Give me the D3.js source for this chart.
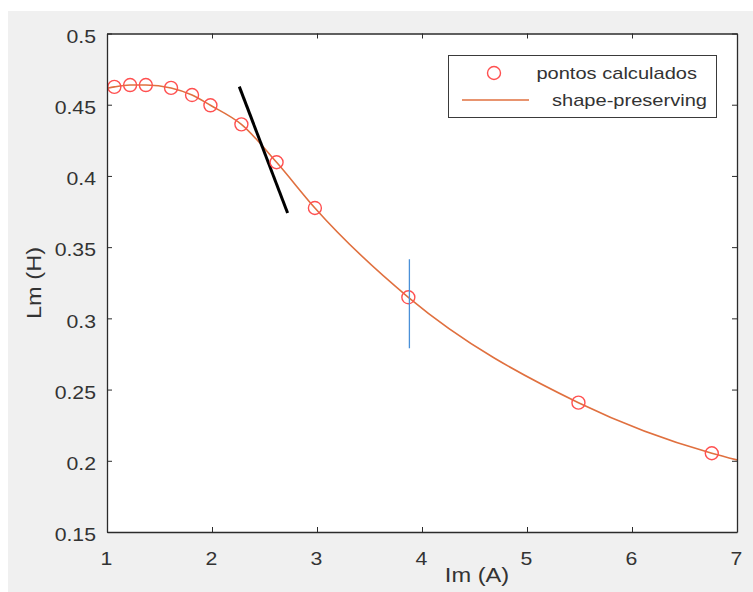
<!DOCTYPE html>
<html>
<head>
<meta charset="utf-8">
<script src="https://cdn.jsdelivr.net/npm/d3@7"></script>
<style>
  html, body { margin: 0; padding: 0; background: #ffffff; }
  svg { display: block; }
  text { font-family: "Liberation Sans", Arial, sans-serif; fill: #333333; }
</style>
</head>
<body>
<svg id="chart" width="753" height="592"></svg>
<script>
// Computed magnetizing inductance Lm versus magnetizing current Im
const imValues = [1.07, 1.22, 1.37, 1.61, 1.81, 1.985, 2.28, 2.615, 2.98, 3.87, 5.49, 6.76];
const lmValues = [0.4625, 0.4638, 0.4638, 0.4618, 0.4568, 0.4496, 0.4362, 0.4096, 0.3775, 0.3148, 0.2408, 0.2053];

// End values of the shape-preserving fit at the axis limits
const fitStart = { im: 1.0, lm: 0.4615 };
const fitEnd = { im: 7.0, lm: 0.2006 };

// Tangent segment and vertical marker
const tangentIm = [2.26, 2.72];
const tangentLm = [0.4627, 0.3740];
const markerIm = [3.88, 3.88];
const markerLm = [0.3415, 0.2790];

const xTicks = [1, 2, 3, 4, 5, 6, 7];
const yTicks = [0.15, 0.2, 0.25, 0.3, 0.35, 0.4, 0.45, 0.5];
const legendLabels = ["pontos calculados", "shape-preserving"];

const svg = d3.select("#chart");
const W = 753, H = 592;
const plotL = 107, plotR = 737, plotT = 33.5, plotB = 532;
const axisColor = "#2b2b2b";
const stretch = 1.18;

// widen text horizontally to the figure's rendering width
function widen(sel, k) {
  sel.each(function () {
    const n = this.getComputedTextLength();
    d3.select(this).attr("textLength", n * k).attr("lengthAdjust", "spacingAndGlyphs");
  });
}

// figure background
svg.append("rect").attr("x", 8).attr("y", 11).attr("width", W - 8).attr("height", H - 11).attr("fill", "#f0f0f0");

const x = d3.scaleLinear().domain([1, 7]).range([plotL, plotR]);
const y = d3.scaleLinear().domain([0.15, 0.5]).range([plotB, plotT]);

// axes area
svg.append("rect").attr("x", plotL).attr("y", plotT).attr("width", plotR - plotL).attr("height", plotB - plotT).attr("fill", "#ffffff");

const plot = svg.append("g");
plot.append("defs").append("clipPath").attr("id", "clip")
  .append("rect").attr("x", plotL).attr("y", plotT).attr("width", plotR - plotL).attr("height", plotB - plotT);

const clipped = plot.append("g").attr("clip-path", "url(#clip)");

// shape-preserving fit
const fitData = [[fitStart.im, fitStart.lm]].concat(imValues.map((v, i) => [v, lmValues[i]])).concat([[fitEnd.im, fitEnd.lm]]);
clipped.append("path")
  .datum(fitData)
  .attr("fill", "none")
  .attr("stroke", "#e0703f")
  .attr("stroke-width", 1.6)
  .attr("d", d3.line().x(d => x(d[0])).y(d => y(d[1])).curve(d3.curveMonotoneX));

// tangent line
clipped.append("path")
  .datum(tangentIm.map((v, i) => [v, tangentLm[i]]))
  .attr("fill", "none")
  .attr("stroke", "#000000")
  .attr("stroke-width", 3)
  .attr("d", d3.line().x(d => x(d[0])).y(d => y(d[1])));

// computed points
clipped.selectAll("circle.pt")
  .data(imValues.map((v, i) => [v, lmValues[i]]))
  .join("circle")
  .attr("class", "pt")
  .attr("cx", d => x(d[0]))
  .attr("cy", d => y(d[1]))
  .attr("r", 6.5)
  .attr("fill", "none")
  .attr("stroke", "#ff5050")
  .attr("stroke-width", 1.4);

// vertical marker
clipped.append("path")
  .datum(markerIm.map((v, i) => [v, markerLm[i]]))
  .attr("fill", "none")
  .attr("stroke", "#4a90d8")
  .attr("stroke-width", 1.3)
  .attr("d", d3.line().x(d => x(d[0])).y(d => y(d[1])));

// axes with inward ticks on all four sides
const tickLen = 5;
const axB = svg.append("g").attr("transform", `translate(0,${plotB})`)
  .call(d3.axisBottom(x).tickValues(xTicks).tickSizeInner(-tickLen).tickSizeOuter(0).tickFormat(d3.format("d")));
const axT = svg.append("g").attr("transform", `translate(0,${plotT})`)
  .call(d3.axisTop(x).tickValues(xTicks).tickSizeInner(-tickLen).tickSizeOuter(0).tickFormat(""));
const axL = svg.append("g").attr("transform", `translate(${plotL},0)`)
  .call(d3.axisLeft(y).tickValues(yTicks).tickSizeInner(-tickLen).tickSizeOuter(0).tickFormat(d => String(+d.toFixed(2))));
const axR = svg.append("g").attr("transform", `translate(${plotR},0)`)
  .call(d3.axisRight(y).tickValues(yTicks).tickSizeInner(-tickLen).tickSizeOuter(0).tickFormat(""));

[axB, axT, axL, axR].forEach(a => {
  a.attr("font-family", null).attr("font-size", null);
  a.select(".domain").attr("stroke", axisColor).attr("stroke-width", 1.3);
  a.selectAll(".tick line").attr("stroke", axisColor).attr("stroke-width", 1);
});

axB.selectAll(".tick text")
  .attr("y", 0).attr("dy", 0).attr("transform", "translate(-1,33)")
  .style("font-size", "18px").attr("fill", "#404040")
  .call(widen, stretch);
axL.selectAll(".tick text")
  .attr("x", -11).attr("dy", "0.32em").attr("transform", "translate(0,3)")
  .style("font-size", "18px").attr("fill", "#404040")
  .call(widen, stretch);

// axis titles
svg.append("text")
  .attr("x", 477).attr("y", 582)
  .attr("text-anchor", "middle")
  .style("font-size", "20px").attr("fill", "#2e2e2e")
  .text("Im (A)")
  .call(widen, stretch);

svg.append("text")
  .attr("transform", "translate(41,283) rotate(-90)")
  .attr("text-anchor", "middle")
  .style("font-size", "20px").attr("fill", "#2e2e2e")
  .text("Lm (H)")
  .call(widen, stretch);

// legend
const lg = svg.append("g");
lg.append("rect")
  .attr("x", 448.5).attr("y", 55.5).attr("width", 268).attr("height", 62)
  .attr("fill", "#ffffff").attr("stroke", "#3a3a3a").attr("stroke-width", 1);
lg.append("circle")
  .attr("cx", 494).attr("cy", 73).attr("r", 6.5)
  .attr("fill", "none").attr("stroke", "#ff5050").attr("stroke-width", 1.4);
lg.append("line")
  .attr("x1", 462).attr("x2", 529).attr("y1", 100).attr("y2", 100)
  .attr("stroke", "#e0703f").attr("stroke-width", 1.6);
lg.append("text")
  .attr("x", 697).attr("y", 79).attr("text-anchor", "end")
  .style("font-size", "17px").attr("fill", "#2e2e2e")
  .text(legendLabels[0]).call(widen, stretch);
lg.append("text")
  .attr("x", 707).attr("y", 106).attr("text-anchor", "end")
  .style("font-size", "17px").attr("fill", "#2e2e2e")
  .text(legendLabels[1]).call(widen, stretch);
</script>
</body>
</html>
